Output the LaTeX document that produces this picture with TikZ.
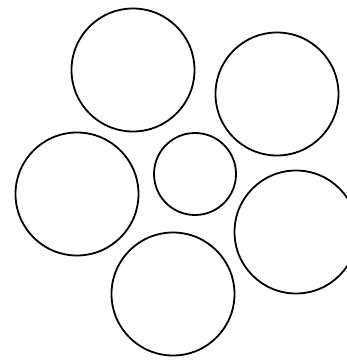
\documentclass[tikz,border=0pt]{standalone}
\usepackage{tikz}
\usetikzlibrary{positioning}
\tikzset{
  ring/.style={
    draw, circle, line width=1.8pt, inner sep=0pt
  },
  bigring/.style={ring, minimum size=123pt},
  smallring/.style={ring, minimum size=82pt}
}
\begin{document}
\begin{tikzpicture}[x=1pt, y=-1pt]

  % page frame and clipping
  \useasboundingbox (0,0) rectangle (347,361);
  \clip (0,0) rectangle (347,361);

  % small circle in the middle
  \node[smallring] (mid) at (195,174) {};

  % five larger circles round it
  \node[bigring] (upleft)  at (133,70)  {};
  \node[bigring] (upright) at (277,94)  {};
  \node[bigring] (left)    at (77,194)  {};
  \node[bigring] (right)   at (296,232) {};
  \node[bigring] (down)    at (173,294) {};

\end{tikzpicture}
\end{document}
